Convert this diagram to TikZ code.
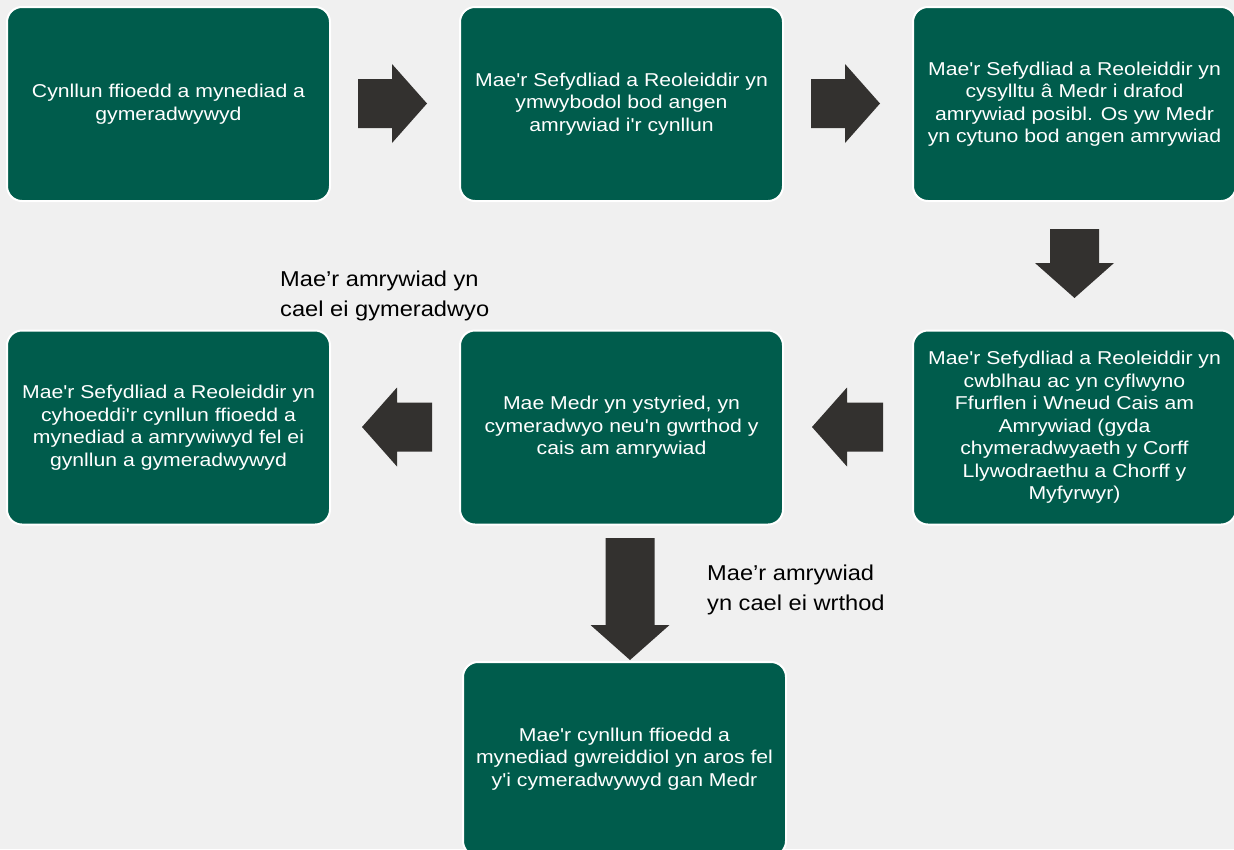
\documentclass[tikz,border=0pt]{standalone}
\usepackage{fontspec}
\setmainfont{Liberation Sans}[Ligatures=TeXOff,FakeStretch=1.14]
\newfontfamily\notefont{Liberation Sans}[Ligatures=TeXOff,FakeStretch=1.1]

\definecolor{medrgreen}{RGB}{0,92,76}
\definecolor{arrowgrey}{RGB}{51,49,47}
\definecolor{bggrey}{RGB}{240,240,240}

\begin{document}
\begin{tikzpicture}
  [x=1pt,y=-1pt,
   box/.style={rectangle,rounded corners=15pt,fill=medrgreen,draw=white,line width=2pt,
     minimum width=323pt,minimum height=194pt,text=white,align=center,
     font=\fontsize{18.6}{22.5}\selectfont},
   note/.style={align=left,anchor=north west,inner sep=0pt,
     font=\notefont\fontsize{21.5}{29.5}\selectfont},
   blockarrow/.style={fill=arrowgrey}]
  \fill[bggrey] (0,0) rectangle (1234,849);
  \useasboundingbox (0,0) rectangle (1234,849);

  \node[box] (b1) at (168.5,104)   {Cynllun ffioedd a mynediad a\\gymeradwywyd};
  \node[box] (b2) at (621.5,104)   {Mae'r Sefydliad a Reoleiddir yn\\ymwybodol bod angen\\amrywiad i'r cynllun};
  \node[box] (b3) at (1074.5,104)  {Mae'r Sefydliad a Reoleiddir yn\\cysylltu â Medr i drafod\\amrywiad posibl. Os yw Medr\\yn cytuno bod angen amrywiad};
  \node[box] (b4) at (1074.5,427.5) {Mae'r Sefydliad a Reoleiddir yn\\cwblhau ac yn cyflwyno\\Ffurflen i Wneud Cais am\\Amrywiad (gyda\\chymeradwyaeth y Corff\\Llywodraethu a Chorff y\\Myfyrwyr)};
  \node[box] (b5) at (621.5,427.5) {Mae Medr yn ystyried, yn\\cymeradwyo neu'n gwrthod y\\cais am amrywiad};
  \node[box] (b6) at (168.5,427.5) {Mae'r Sefydliad a Reoleiddir yn\\cyhoeddi'r cynllun ffioedd a\\mynediad a amrywiwyd fel ei\\gynllun a gymeradwywyd};
  \node[box] (b7) at (624.5,759)   {Mae'r cynllun ffioedd a\\mynediad gwreiddiol yn aros fel\\y'i cymeradwywyd gan Medr};

  \node[note] (yes) at (280,271) {Mae’r amrywiad yn\\cael ei gymeradwyo};
  \node[note] (no)  at (707,565) {Mae’r amrywiad\\yn cael ei wrthod};

  % block arrows: tail x / tail y / angle / length
  \foreach \x/\y/\a/\l in {358/103.5/0/69,811/103.5/0/69,1074.5/229/-90/69,
                           883/427/180/71,432/427/180/70,630/538/-90/122}
    \fill[blockarrow,shift={(\x,\y)},rotate=\a]
      (0,-24.5) -- (\l-35,-24.5) -- (\l-35,-39.5) -- (\l,0)
      -- (\l-35,39.5) -- (\l-35,24.5) -- (0,24.5) -- cycle;
\end{tikzpicture}
\end{document}
